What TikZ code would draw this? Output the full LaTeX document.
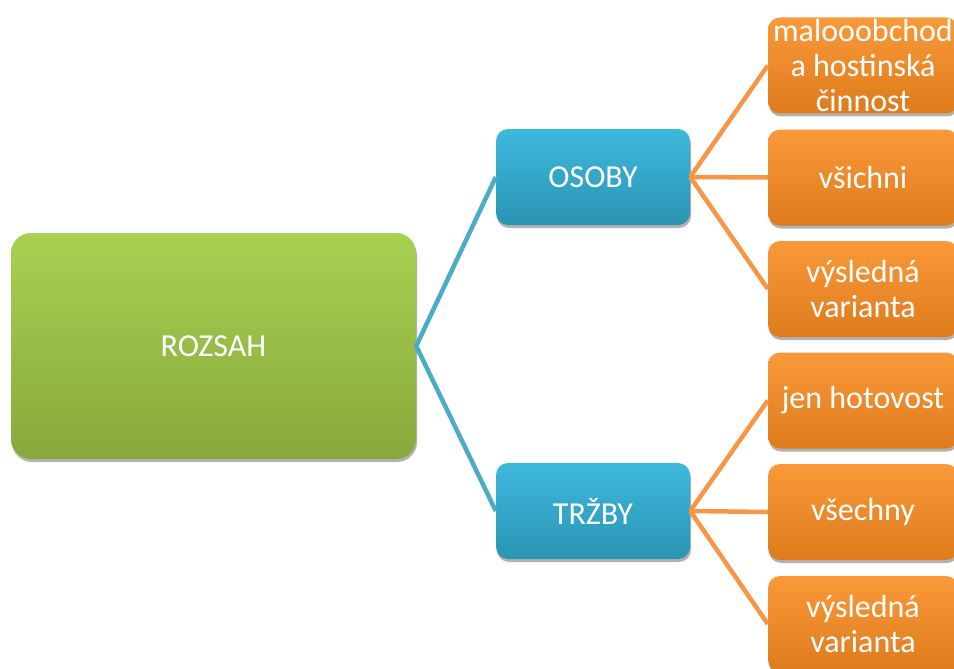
\documentclass[tikz,border=0pt]{standalone}
\usepackage{fontspec}
\setmainfont{Carlito}
\usetikzlibrary{shadows}
\definecolor{gtop}{HTML}{A8D152}
\definecolor{gbot}{HTML}{88A83C}
\definecolor{btop}{HTML}{3DB9DD}
\definecolor{bbot}{HTML}{2B94B3}
\definecolor{otop}{HTML}{FA993A}
\definecolor{obot}{HTML}{DD7B1D}
\definecolor{bline}{HTML}{4BACC6}
\definecolor{oline}{HTML}{F79646}
\tikzset{
  box/.style={rounded corners=12pt, inner sep=0pt, text=white, align=center,
    font=\fontsize{32}{35}\selectfont,
    drop shadow={shadow xshift=1pt, shadow yshift=-3pt, opacity=0.3, fill=black}},
  greenbox/.style={box, rounded corners=20pt, top color=gtop, bottom color=gbot,
    minimum width=405pt, minimum height=226pt},
  bluebox/.style={box, top color=btop, bottom color=bbot, minimum width=194pt, minimum height=96pt},
  orangebox/.style={box, top color=otop, bottom color=obot, minimum width=190pt, minimum height=96pt},
  bluelink/.style={draw=bline, line width=4.5pt},
  orangelink/.style={draw=oline, line width=4.5pt}
}
\begin{document}
\begin{tikzpicture}[x=1pt,y=-1pt]
\useasboundingbox (0,0) rectangle (954,669);
\clip (0,0) rectangle (954,669);
\node[greenbox] (root) at (213.5,346) {ROZSAH};
\node[bluebox] (osoby) at (593,177) {OSOBY};
\node[bluebox] (trzby) at (593,511) {TRŽBY};
\node[orangebox] (o1) at (863,65.5) {malooobchod\\a hostinská\\činnost};
\node[orangebox] (o2) at (863,177.5) {všichni};
\node[orangebox] (o3) at (863,289) {výsledná\\varianta};
\node[orangebox] (t1) at (863,400.5) {jen hotovost};
\node[orangebox] (t2) at (863,512) {všechny};
\node[orangebox] (t3) at (863,624) {výsledná\\varianta};
\draw[bluelink] (osoby.west) -- (root.east) -- (trzby.west);
\foreach \n in {o1,o2,o3} \draw[orangelink] (osoby.east) -- (\n.west);
\foreach \n in {t1,t2,t3} \draw[orangelink] (trzby.east) -- (\n.west);
\end{tikzpicture}
\end{document}
